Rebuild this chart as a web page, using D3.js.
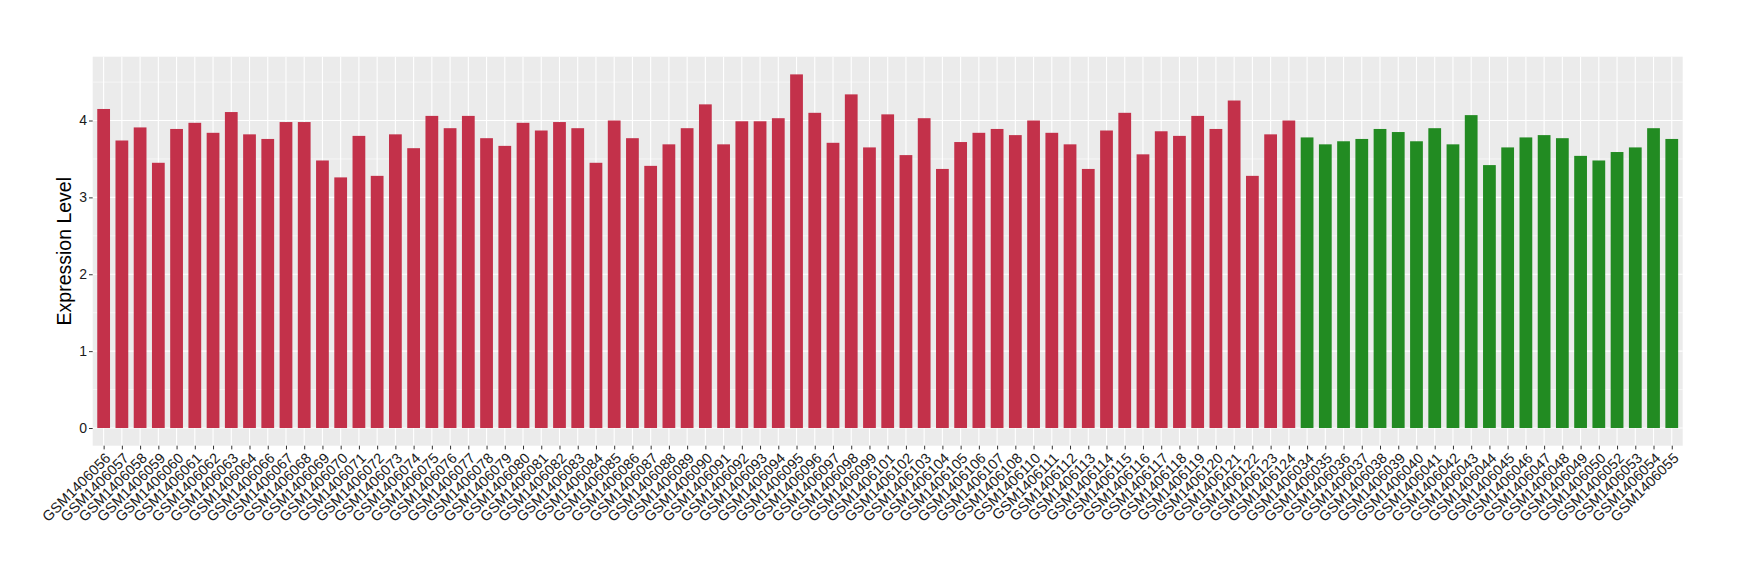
<!DOCTYPE html>
<html>
<head>
<meta charset="utf-8">
<script src="https://cdn.jsdelivr.net/npm/d3@7"></script>
<style>
    html, body { margin: 0; padding: 0; background: #fff; }
    svg { display: block; font-family: "Liberation Sans", Arial, Helvetica, sans-serif; }
</style>
</head>
<body>
<svg id="chart" width="1740" height="580"></svg>
<script>
// group 1 (red) samples and values
const redSamples = [
    "GSM1406056", "GSM1406057", "GSM1406058", "GSM1406059", "GSM1406060", "GSM1406061",
    "GSM1406062", "GSM1406063", "GSM1406064", "GSM1406066", "GSM1406067", "GSM1406068",
    "GSM1406069", "GSM1406070", "GSM1406071", "GSM1406072", "GSM1406073", "GSM1406074",
    "GSM1406075", "GSM1406076", "GSM1406077", "GSM1406078", "GSM1406079", "GSM1406080",
    "GSM1406081", "GSM1406082", "GSM1406083", "GSM1406084", "GSM1406085", "GSM1406086",
    "GSM1406087", "GSM1406088", "GSM1406089", "GSM1406090", "GSM1406091", "GSM1406092",
    "GSM1406093", "GSM1406094", "GSM1406095", "GSM1406096", "GSM1406097", "GSM1406098",
    "GSM1406099", "GSM1406101", "GSM1406102", "GSM1406103", "GSM1406104", "GSM1406105",
    "GSM1406106", "GSM1406107", "GSM1406108", "GSM1406110", "GSM1406111", "GSM1406112",
    "GSM1406113", "GSM1406114", "GSM1406115", "GSM1406116", "GSM1406117", "GSM1406118",
    "GSM1406119", "GSM1406120", "GSM1406121", "GSM1406122", "GSM1406123", "GSM1406124"
];
const redValues = [
    4.15, 3.74, 3.91, 3.45, 3.89, 3.97,
    3.84, 4.11, 3.82, 3.76, 3.98, 3.98,
    3.48, 3.26, 3.80, 3.28, 3.82, 3.64,
    4.06, 3.90, 4.06, 3.77, 3.67, 3.97,
    3.87, 3.98, 3.90, 3.45, 4.00, 3.77,
    3.41, 3.69, 3.90, 4.21, 3.69, 3.99,
    3.99, 4.03, 4.60, 4.10, 3.71, 4.34,
    3.65, 4.08, 3.55, 4.03, 3.37, 3.72,
    3.84, 3.89, 3.81, 4.00, 3.84, 3.69,
    3.37, 3.87, 4.10, 3.56, 3.86, 3.80,
    4.06, 3.89, 4.26, 3.28, 3.82, 4.00
];

// group 2 (green) samples and values
const greenSamples = [
    "GSM1406034", "GSM1406035", "GSM1406036", "GSM1406037", "GSM1406038", "GSM1406039",
    "GSM1406040", "GSM1406041", "GSM1406042", "GSM1406043", "GSM1406044", "GSM1406045",
    "GSM1406046", "GSM1406047", "GSM1406048", "GSM1406049", "GSM1406050", "GSM1406052",
    "GSM1406053", "GSM1406054", "GSM1406055"
];
const greenValues = [
    3.78, 3.69, 3.73, 3.76, 3.89, 3.85,
    3.73, 3.90, 3.69, 4.07, 3.42, 3.65,
    3.78, 3.81, 3.77, 3.54, 3.48, 3.59,
    3.65, 3.90, 3.76
];

const groupColors = { red: "#C3314A", green: "#228B22" };
const yTicks = [0, 1, 2, 3, 4];
const yTitle = "Expression Level";

const data = [
    ...redSamples.map((s, i) => ({ sample: s, value: redValues[i], group: "red" })),
    ...greenSamples.map((s, i) => ({ sample: s, value: greenValues[i], group: "green" }))
];

const
    margin = { top: 56.7, left: 92.7 },
    width = 1590,
    height = 389,
    svg = d3.select("#chart"),
    g = svg.append("g").attr("transform", `translate(${margin.left},${margin.top})`);

// ggplot-like discrete expansion: 0.6 of a step on each side
const n = data.length;
const x = d3.scaleLinear().domain([0.4, n + 0.6]).range([0, width]);
const step = width / (n + 0.2);
const barW = step * 0.7;

const yMax = d3.max(data, d => d.value);
const y = d3.scaleLinear().domain([-0.05 * yMax, yMax * 1.05]).range([height, 0]);

// panel
g.append("rect")
    .attr("width", width)
    .attr("height", height)
    .attr("fill", "#EBEBEB");

// minor grid
const minor = d3.range(0.5, yMax * 1.05, 1);
g.append("g").selectAll("line").data(minor).join("line")
    .attr("x1", 0).attr("x2", width)
    .attr("y1", d => y(d)).attr("y2", d => y(d))
    .attr("stroke", "#fff").attr("stroke-width", 0.55);

// major grid
g.append("g").selectAll("line").data(yTicks).join("line")
    .attr("x1", 0).attr("x2", width)
    .attr("y1", d => y(d)).attr("y2", d => y(d))
    .attr("stroke", "#fff").attr("stroke-width", 1.1);

g.append("g").selectAll("line").data(data).join("line")
    .attr("x1", (d, i) => x(i + 1)).attr("x2", (d, i) => x(i + 1))
    .attr("y1", 0).attr("y2", height)
    .attr("stroke", "#fff").attr("stroke-width", 1.1);

// bars
g.append("g").selectAll("rect").data(data).join("rect")
    .attr("x", (d, i) => x(i + 1) - barW / 2)
    .attr("width", barW)
    .attr("y", d => y(d.value))
    .attr("height", d => y(0) - y(d.value))
    .attr("fill", d => groupColors[d.group]);

// y axis
const yAxis = g.append("g")
    .call(d3.axisLeft(y).tickValues(yTicks).tickSize(3.7).tickPadding(2).tickFormat(d3.format("d")));
yAxis.select(".domain").remove();
yAxis.selectAll(".tick line").attr("stroke", "#333").attr("stroke-width", 1);
yAxis.selectAll(".tick text")
    .attr("fill", "#1a1a1a")
    .attr("font-size", 14)
    .attr("font-family", "Liberation Sans, Arial, sans-serif");

// x axis
const xAxis = g.append("g")
    .attr("transform", `translate(0,${height})`)
    .call(d3.axisBottom(x)
        .tickValues(d3.range(1, n + 1))
        .tickSize(3.7)
        .tickFormat(i => data[i - 1].sample));
xAxis.select(".domain").remove();
xAxis.selectAll(".tick line").attr("stroke", "#333").attr("stroke-width", 1);
xAxis.selectAll(".tick text")
    .attr("fill", "#1a1a1a")
    .attr("font-size", 14.5)
    .attr("font-family", "Liberation Sans, Arial, sans-serif")
    .attr("text-anchor", "end")
    .attr("y", 0)
    .attr("dy", 0)
    .attr("transform", "translate(0,6) rotate(-45) translate(0,10.5)");

// y title
svg.append("text")
    .attr("transform", `translate(70.5,${margin.top + height / 2}) rotate(-90)`)
    .attr("text-anchor", "middle")
    .attr("font-size", 19.5)
    .attr("fill", "#000")
    .text(yTitle);
</script>
</body>
</html>
